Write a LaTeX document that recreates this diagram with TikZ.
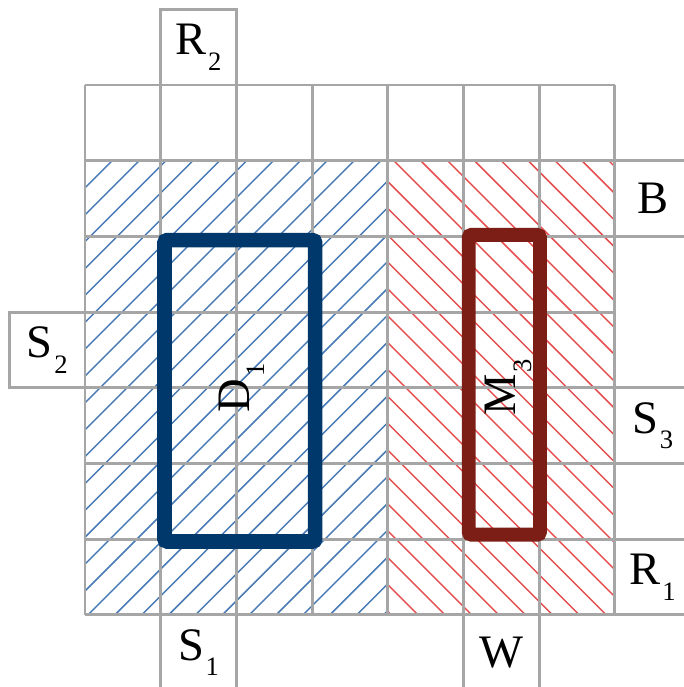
\documentclass[tikz,border=0pt]{standalone}
\usepackage{fontspec}
\setmainfont{Liberation Serif}
\usepackage{xcolor}
\usepackage{tikz}
\usetikzlibrary{positioning}
\definecolor{Grid}{HTML}{A6A6A6}
\definecolor{deepnavy}{RGB}{0,56,107}
\definecolor{deepred}{RGB}{124,30,22}
\definecolor{hatchblue}{RGB}{72,122,182}
\definecolor{hatchred}{RGB}{228,78,78}
\newcommand{\lbl}[2]{#1\kern0.6pt\raisebox{-5.9pt}{\fontsize{10}{10}\selectfont #2}}

\begin{document}
\begin{tikzpicture}[
  gridline/.style={draw=Grid,line width=1.1pt},
  cell/.style={gridline,minimum size=1cm,inner sep=0pt,font=\fontsize{17.5}{18}\selectfont},
  hatchb/.style={hatchblue,line width=0.55pt},
  hatchr/.style={hatchred,line width=0.55pt},
  zone/.style={line width=5.5pt,rounded corners=1pt}
]
\useasboundingbox (-1.123,-0.953) rectangle (7.913,8.123);
\clip (-1.123,-0.953) rectangle (7.913,8.123);
% hatching
\begin{scope}
  \clip (0,0) rectangle (4,6);
  \foreach \k in {-18,...,12}
    \draw[hatchb] ({0.04+0.355*\k},0) -- ({6.04+0.355*\k},6);
\end{scope}
\begin{scope}
  \clip (4,0) rectangle (7,6);
  \foreach \k in {-2,...,26}
    \draw[hatchr] ({4.40+0.355*\k},0) -- ({-1.60+0.355*\k},6);
\end{scope}
% grid
\draw[gridline] (0,0) grid (7,7);
\node[cell] (r2) at (1.5,7.5) {\lbl{R}{2}};
\node[cell] (s2) at (-0.5,3.5) {\lbl{S}{2}};
\node[cell] (s1) at (1.5,-0.5) {\lbl{S}{1}};
\node[cell] (w) at (5.5,-0.5) {W};
\node[cell] (b) at (7.5,5.5) {B};
\node[cell] (s3) at (7.5,2.5) {\lbl{S}{3}};
\node[cell] (gap) at (7.5,1.5) {};
\node[cell] (r1) at (7.5,0.5) {\lbl{R}{1}};
% zones
\draw[zone,deepnavy] (1.05,0.97) rectangle (3.04,4.95);
\draw[zone,deepred,line width=5.2pt] (5.07,1.06) rectangle (6.01,5.02);
\node[rotate=90,font=\fontsize{17.5}{18}\selectfont,inner sep=0pt] (d1) at (2.07,3.0) {\lbl{D}{1}};
\node[rotate=90,font=\fontsize{17.5}{18}\selectfont,inner sep=0pt] (m3) at (5.59,3.0) {\lbl{M}{3}};
\end{tikzpicture}
\end{document}
